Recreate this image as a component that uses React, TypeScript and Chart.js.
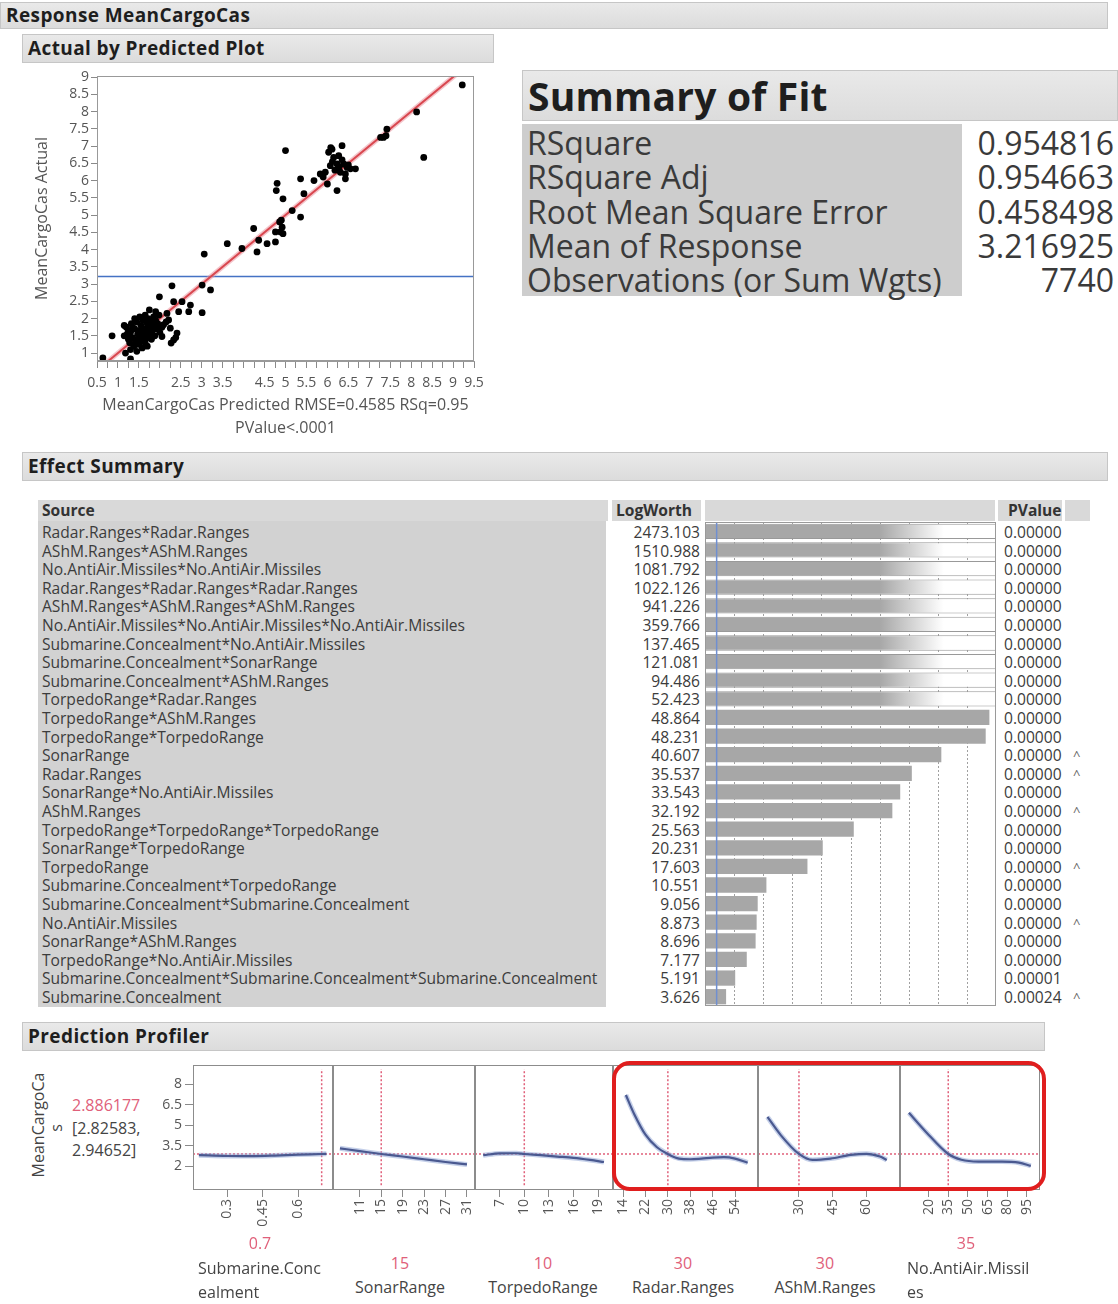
import React, { useEffect, useRef } from 'react';
import { Chart, registerables } from 'chart.js';

Chart.register(...registerables);

const FONT = '"Open Sans", "Noto Sans", sans-serif';

// ---------- Actual by Predicted ----------
const predictedValues = [
  9.22, 8.13, 8.3, 7.42, 7.34, 7.27, 7.4, 5.0,
  6.35, 6.11, 6.03, 6.15, 6.27, 6.08, 5.83, 5.95, 6.07, 6.23, 6.39, 6.47, 6.55, 6.67, 6.43, 6.43, 5.68, 6.0, 6.23, 6.31, 6.18, 6.35, 6.5, 5.9, 6.12, 6.28,
  5.36, 5.44, 5.16, 5.36, 4.8, 4.78, 4.94, 4.9, 4.92, 4.88, 4.94, 4.76, 4.76, 4.86,
  4.24, 4.36, 4.56, 4.32, 3.96, 3.61, 3.06, 3.01, 3.21, 3.01,
  2.29, 1.99, 2.33, 2.53, 2.73, 2.69, 2.45, 2.21, 2.25, 2.41, 2.33, 2.27, 2.05, 2.17, 2.09, 2.15, 2.38,
  0.86, 0.64, 1.3, 1.18,
  1.15, 1.2, 1.22, 1.25, 1.28, 1.3, 1.32, 1.35, 1.38, 1.4, 1.42, 1.45, 1.47, 1.5, 1.5, 1.52, 1.55, 1.55, 1.58, 1.6,
  1.6, 1.62, 1.65, 1.65, 1.68, 1.7, 1.72, 1.72, 1.75, 1.75, 1.78, 1.8, 1.82, 1.85, 1.85, 1.88, 1.9, 1.92, 1.95, 1.98,
  2.0, 1.3, 1.45, 1.35, 1.4, 1.55, 1.7, 1.6, 1.25, 1.5, 1.8, 2.05, 1.15, 1.9,
];
const actualValues = [
  8.77, 7.99, 6.67, 7.49, 7.25, 7.25, 7.3, 6.87,
  7.01, 6.91, 6.82, 6.67, 6.72, 6.95, 6.19, 6.24, 6.43, 6.48, 6.48, 6.38, 6.34, 6.34, 6.19, 6.05, 6.0, 5.9, 5.71, 6.24, 6.3, 6.6, 6.45, 6.1, 6.55, 6.4,
  6.05, 5.62, 5.13, 4.94, 5.92, 5.71, 5.47, 4.85, 4.65, 4.51, 4.46, 4.51, 4.22, 4.8,
  4.61, 4.27, 4.17, 3.93, 4.03, 4.17, 3.87, 2.97, 2.83, 2.17,
  2.95, 2.63, 2.49, 2.49, 2.39, 2.2, 2.2, 1.96, 1.72, 1.58, 1.38, 1.29, 1.48, 2.15, 1.82, 1.9, 1.45,
  1.5, 0.86, 0.83, 1.0,
  1.8, 1.75, 1.55, 1.4, 1.3, 1.6, 1.85, 1.45, 1.2, 1.7, 1.35, 1.9, 1.55, 1.25, 1.65, 2.05, 1.4, 1.8, 1.15, 1.5,
  1.95, 1.7, 1.3, 2.1, 1.6, 1.85, 1.45, 2.0, 1.75, 2.25, 1.55, 1.9, 1.65, 2.05, 1.8, 1.5, 1.95, 1.7, 1.85, 2.1,
  1.6, 1.1, 1.05, 1.75, 2.0, 1.6, 1.2, 1.35, 1.65, 1.45, 1.4, 1.75, 1.5, 2.2,
];
const meanResponse = 3.216925;
const apYTicks = [1, 1.5, 2, 2.5, 3, 3.5, 4, 4.5, 5, 5.5, 6, 6.5, 7, 7.5, 8, 8.5, 9];
const apXTickMarks = [
  0.5, 0.75, 1, 1.25, 1.5, 1.75, 2, 2.25, 2.5, 2.75, 3, 3.25, 3.5, 3.75, 4, 4.25, 4.5, 4.75, 5,
  5.25, 5.5, 5.75, 6, 6.25, 6.5, 6.75, 7, 7.25, 7.5, 7.75, 8, 8.25, 8.5, 8.75, 9, 9.25, 9.5,
];
const apXTickLabels = [0.5, 1, 1.5, 2.5, 3, 3.5, 4.5, 5, 5.5, 6, 6.5, 7, 7.5, 8, 8.5, 9, 9.5];

// ---------- Summary of Fit ----------
const fitLabels = ['RSquare', 'RSquare Adj', 'Root Mean Square Error', 'Mean of Response', 'Observations (or Sum Wgts)'];
const fitValues = ['0.954816', '0.954663', '0.458498', '3.216925', '7740'];

// ---------- Effect Summary ----------
const effectSources = [
  'Radar.Ranges*Radar.Ranges',
  'AShM.Ranges*AShM.Ranges',
  'No.AntiAir.Missiles*No.AntiAir.Missiles',
  'Radar.Ranges*Radar.Ranges*Radar.Ranges',
  'AShM.Ranges*AShM.Ranges*AShM.Ranges',
  'No.AntiAir.Missiles*No.AntiAir.Missiles*No.AntiAir.Missiles',
  'Submarine.Concealment*No.AntiAir.Missiles',
  'Submarine.Concealment*SonarRange',
  'Submarine.Concealment*AShM.Ranges',
  'TorpedoRange*Radar.Ranges',
  'TorpedoRange*AShM.Ranges',
  'TorpedoRange*TorpedoRange',
  'SonarRange',
  'Radar.Ranges',
  'SonarRange*No.AntiAir.Missiles',
  'AShM.Ranges',
  'TorpedoRange*TorpedoRange*TorpedoRange',
  'SonarRange*TorpedoRange',
  'TorpedoRange',
  'Submarine.Concealment*TorpedoRange',
  'Submarine.Concealment*Submarine.Concealment',
  'No.AntiAir.Missiles',
  'SonarRange*AShM.Ranges',
  'TorpedoRange*No.AntiAir.Missiles',
  'Submarine.Concealment*Submarine.Concealment*Submarine.Concealment',
  'Submarine.Concealment',
];
const effectLogWorth = [
  2473.103, 1510.988, 1081.792, 1022.126, 941.226, 359.766, 137.465, 121.081, 94.486, 52.423,
  48.864, 48.231, 40.607, 35.537, 33.543, 32.192, 25.563, 20.231, 17.603, 10.551,
  9.056, 8.873, 8.696, 7.177, 5.191, 3.626,
];
const effectPValues = [
  '0.00000', '0.00000', '0.00000', '0.00000', '0.00000', '0.00000', '0.00000', '0.00000', '0.00000', '0.00000',
  '0.00000', '0.00000', '0.00000', '0.00000', '0.00000', '0.00000', '0.00000', '0.00000', '0.00000', '0.00000',
  '0.00000', '0.00000', '0.00000', '0.00000', '0.00001', '0.00024',
];
const effectCaret = [
  false, false, false, false, false, false, false, false, false, false,
  false, false, true, true, false, true, false, false, true, false,
  false, true, false, false, false, true,
];
const effectAxisMax = 50;
const effectGridValues = [5, 10, 15, 20, 25, 30, 35, 40, 45];
const effectRefLogWorth = 2;

// ---------- Prediction Profiler ----------
const predictedResponse = 2.886177;
const predictedInterval = ['[2.82583,', '2.94652]'];
const profYTicks = [2, 3.5, 5, 6.5, 8];

const subConcX = [0.18, 0.3, 0.4, 0.5, 0.6, 0.7, 0.72];
const subConcY = [2.8, 2.74, 2.73, 2.77, 2.84, 2.886, 2.9];
const sonarX = [7.3, 11, 15, 19, 23, 27, 31];
const sonarY = [3.3, 3.1, 2.886, 2.7, 2.5, 2.3, 2.12];
const torpedoX = [5, 7, 9, 10, 12, 14, 16, 18, 19.7];
const torpedoY = [2.8, 2.93, 2.94, 2.886, 2.8, 2.7, 2.6, 2.45, 2.3];
const radarX = [15, 18, 22, 26, 30, 34, 38, 42, 46, 50, 54, 58.5];
const radarY = [7.2, 5.8, 4.3, 3.4, 2.886, 2.55, 2.5, 2.55, 2.62, 2.65, 2.55, 2.25];
const ashmX = [16, 22, 30, 36, 44, 53, 60, 66, 69];
const ashmY = [5.6, 4.25, 2.886, 2.45, 2.55, 2.82, 2.9, 2.7, 2.45];
const antiAirX = [5, 18, 35, 45, 58, 76, 89, 98];
const antiAirY = [5.9, 4.5, 2.886, 2.46, 2.33, 2.33, 2.25, 2.02];

const factorNames = ['Submarine.Concealment', 'SonarRange', 'TorpedoRange', 'Radar.Ranges', 'AShM.Ranges', 'No.AntiAir.Missiles'];
const factorCurrent = [0.7, 15, 10, 30, 30, 35];
const factorTicks = [
  [0.3, 0.45, 0.6],
  [11, 15, 19, 23, 27, 31],
  [7, 10, 13, 16, 19],
  [14, 22, 30, 38, 46, 54],
  [30, 45, 60],
  [20, 35, 50, 65, 80, 95],
];

const profilerTable = [
  { xs: subConcX, ys: subConcY, min: 0.155, max: 0.748, left: 150, right: 333 },
  { xs: sonarX, ys: sonarY, min: 6, max: 32.5, left: 333, right: 475 },
  { xs: torpedoX, ys: torpedoY, min: 4, max: 20.8, left: 475, right: 613 },
  { xs: radarX, ys: radarY, min: 10.4, max: 62.2, left: 613, right: 758 },
  { xs: ashmX, ys: ashmY, min: 11.8, max: 74.9, left: 758, right: 900 },
  { xs: antiAirX, ys: antiAirY, min: -1.8, max: 105, left: 900, right: 1040 },
];

// ---------- helpers ----------
const framePlugin = (color: string) => ({
  id: 'frame' + color.replace('#', ''),
  afterDatasetsDraw(chart: any) {
    const { ctx, chartArea: a } = chart;
    ctx.save();
    ctx.strokeStyle = color;
    ctx.lineWidth = 1;
    ctx.strokeRect(Math.round(a.left) + 0.5, Math.round(a.top) + 0.5, Math.round(a.width) - 1, Math.round(a.height) - 1);
    ctx.restore();
  },
});

function ChartCanvas({ left, top, width, height, config }: any) {
  const ref = useRef<HTMLCanvasElement>(null);
  useEffect(() => {
    const chart = new Chart(ref.current as HTMLCanvasElement, config());
    return () => chart.destroy();
  }, []);
  return (
    <canvas
      ref={ref}
      width={width}
      height={height}
      style={{ position: 'absolute', left, top, width, height }}
    />
  );
}

const tickFont = { family: FONT, size: 14 };
const fmt = (v: number) => String(Math.round(v * 1000) / 1000);

function scatterConfig() {
  return {
    type: 'scatter',
    data: {
      datasets: [
        {
          data: predictedValues.map((x, i) => ({ x, y: actualValues[i] })),
          pointRadius: 3.4,
          pointBackgroundColor: '#000',
          pointBorderWidth: 0,
          showLine: false,
        },
        {
          data: [{ x: 0.5, y: 0.5 }, { x: 9.5, y: 9.5 }],
          showLine: true,
          borderColor: '#d9474f',
          borderWidth: 2,
          pointRadius: 0,
        },
        {
          data: [{ x: 0.5, y: 0.5 }, { x: 9.5, y: 9.5 }],
          showLine: true,
          borderColor: 'rgba(235, 150, 160, 0.55)',
          borderWidth: 5,
          pointRadius: 0,
        },
        {
          data: [{ x: 0.5, y: meanResponse }, { x: 9.5, y: meanResponse }],
          showLine: true,
          borderColor: '#4472c4',
          borderWidth: 1.5,
          pointRadius: 0,
        },
      ],
    },
    options: {
      responsive: false,
      animation: false,
      layout: { padding: { left: 0, right: 16, top: 10, bottom: 6 } },
      plugins: { legend: { display: false }, tooltip: { enabled: false } },
      scales: {
        x: {
          type: 'linear',
          min: 0.5,
          max: 9.5,
          afterBuildTicks: (s: any) => { s.ticks = apXTickMarks.map((v) => ({ value: v })); },
          afterFit: (s: any) => { s.height = 79; s.paddingLeft = 0; s.paddingRight = 0; },
          grid: { drawOnChartArea: false, drawTicks: true, tickLength: 7, color: '#8a8a8a' },
          border: { color: '#999' },
          ticks: {
            autoSkip: false, maxRotation: 0, minRotation: 0, padding: 7, color: '#555', font: tickFont,
            callback: (v: number) => (apXTickLabels.some((l) => Math.abs(l - v) < 1e-6) ? fmt(v) : ''),
          },
          title: {
            display: true,
            text: ['MeanCargoCas Predicted RMSE=0.4585 RSq=0.95', 'PValue<.0001'],
            color: '#555',
            font: { family: FONT, size: 16, lineHeight: 1.45 },
            padding: { top: 0, bottom: 0 },
          },
        },
        y: {
          type: 'linear',
          min: 0.77,
          max: 9.03,
          afterBuildTicks: (s: any) => { s.ticks = apYTicks.map((v) => ({ value: v })); },
          afterFit: (s: any) => { s.width = 67; s.paddingTop = 0; s.paddingBottom = 0; },
          grid: { drawOnChartArea: false, drawTicks: true, tickLength: 6, color: '#8a8a8a' },
          border: { color: '#999' },
          ticks: { autoSkip: false, padding: 2, color: '#555', font: tickFont, callback: (v: number) => fmt(v) },
          title: { display: true, text: 'MeanCargoCas Actual', color: '#555', font: { family: FONT, size: 16 }, padding: { top: 3, bottom: 0 } },
        },
      },
    },
    plugins: [framePlugin('#999999')],
  };
}

const effectDecor = {
  id: 'effectDecor',
  beforeDatasetsDraw(chart: any) {
    const { ctx, chartArea: a, scales } = chart;
    ctx.save();
    ctx.strokeStyle = '#a0a0a0';
    ctx.lineWidth = 1;
    ctx.setLineDash([2, 2]);
    effectGridValues.forEach((v) => {
      const px = Math.round(scales.x.getPixelForValue(v)) + 0.5;
      ctx.beginPath();
      ctx.moveTo(px, a.top);
      ctx.lineTo(px, a.bottom);
      ctx.stroke();
    });
    ctx.restore();
  },
  afterDatasetsDraw(chart: any) {
    const { ctx, chartArea: a, scales } = chart;
    ctx.save();
    ctx.strokeStyle = '#6f8fd0';
    ctx.lineWidth = 1.5;
    const px = scales.x.getPixelForValue(effectRefLogWorth);
    ctx.beginPath();
    ctx.moveTo(px, a.top);
    ctx.lineTo(px, a.bottom);
    ctx.stroke();
    ctx.strokeStyle = '#9a9a9a';
    ctx.lineWidth = 1;
    ctx.strokeRect(Math.round(a.left) + 0.5, Math.round(a.top) + 0.5, Math.round(a.width) - 1, Math.round(a.height) - 1);
    ctx.restore();
  },
};

function effectConfig() {
  const barGray = '#a7a7a7';
  return {
    type: 'bar',
    data: {
      labels: effectSources,
      datasets: [
        {
          data: effectLogWorth.map((v) => Math.min(v, effectAxisMax)),
          backgroundColor: (c: any) => {
            const v = effectLogWorth[c.dataIndex];
            const a = c.chart.chartArea;
            if (v <= effectAxisMax || !a) return barGray;
            const g = c.chart.ctx.createLinearGradient(a.left, 0, a.right, 0);
            g.addColorStop(0, barGray);
            g.addColorStop(0.6, barGray);
            g.addColorStop(0.82, '#ffffff');
            g.addColorStop(1, '#ffffff');
            return g;
          },
          borderColor: '#999999',
          borderWidth: (c: any) => (effectLogWorth[c.dataIndex] > effectAxisMax ? 1 : 0),
          barPercentage: 0.82,
          categoryPercentage: 1,
        },
      ],
    },
    options: {
      indexAxis: 'y',
      responsive: false,
      animation: false,
      layout: { padding: 0 },
      plugins: { legend: { display: false }, tooltip: { enabled: false } },
      scales: {
        x: { display: false, min: 0, max: effectAxisMax },
        y: { display: false },
      },
    },
    plugins: [effectDecor],
  };
}

function profilerConfig(i: number) {
  const p = profilerTable[i];
  const first = i === 0;
  const curve = p.xs.map((x, k) => ({ x, y: p.ys[k] }));
  return {
    type: 'scatter',
    data: {
      datasets: [
        {
          data: curve,
          showLine: true,
          borderColor: '#4a5990',
          borderWidth: 2.2,
          pointRadius: 0,
          cubicInterpolationMode: 'monotone',
        },
        {
          data: curve,
          showLine: true,
          borderColor: 'rgba(150, 170, 215, 0.55)',
          borderWidth: 5,
          pointRadius: 0,
          cubicInterpolationMode: 'monotone',
        },
        {
          data: [{ x: factorCurrent[i], y: 0.6 }, { x: factorCurrent[i], y: 9.1 }],
          showLine: true,
          borderColor: '#e0607a',
          borderWidth: 1.5,
          borderDash: [2, 2],
          pointRadius: 0,
        },
        {
          data: [{ x: p.min, y: predictedResponse }, { x: p.max, y: predictedResponse }],
          showLine: true,
          borderColor: '#e0607a',
          borderWidth: 1.5,
          borderDash: [2, 2],
          pointRadius: 0,
        },
      ],
    },
    options: {
      responsive: false,
      animation: false,
      layout: { padding: { left: 0, right: 0, top: 5, bottom: 0 } },
      plugins: { legend: { display: false }, tooltip: { enabled: false } },
      scales: {
        x: {
          type: 'linear',
          min: p.min,
          max: p.max,
          afterBuildTicks: (s: any) => { s.ticks = factorTicks[i].map((v) => ({ value: v })); },
          afterFit: (s: any) => { s.height = 55; s.paddingLeft = 0; s.paddingRight = 0; },
          grid: { drawOnChartArea: false, drawTicks: true, tickLength: 7, color: '#8a8a8a' },
          border: { display: false },
          ticks: { autoSkip: false, maxRotation: 90, minRotation: 90, padding: 2, color: '#555', font: tickFont, callback: (v: number) => fmt(v) },
        },
        y: {
          type: 'linear',
          display: first,
          min: 0.25,
          max: 9.4,
          afterBuildTicks: (s: any) => { s.ticks = profYTicks.map((v) => ({ value: v })); },
          afterFit: (s: any) => { s.width = first ? 43 : 0; s.paddingTop = 0; s.paddingBottom = 0; },
          grid: { drawOnChartArea: false, drawTicks: true, tickLength: 8, color: '#8a8a8a' },
          border: { display: false },
          ticks: { autoSkip: false, padding: 3, color: '#555', font: tickFont, callback: (v: number) => fmt(v) },
        },
      },
    },
    plugins: [framePlugin('#8c8c8c')],
  };
}

// ---------- layout ----------
const barStyle = (left: number, top: number, width: number, height: number, size: number): React.CSSProperties => ({
  position: 'absolute',
  left,
  top,
  width,
  height,
  background: 'linear-gradient(#e9e9e9, #dcdcdc)',
  border: '1px solid #c6c6c6',
  boxSizing: 'border-box',
  fontWeight: 700,
  fontSize: size,
  letterSpacing: 0.4,
  color: '#1e1e1e',
  lineHeight: height - 2 + 'px',
  paddingLeft: 5,
  whiteSpace: 'nowrap',
  overflow: 'hidden',
});

const abs = (left: number, top: number, extra: React.CSSProperties = {}): React.CSSProperties => ({
  position: 'absolute',
  left,
  top,
  whiteSpace: 'nowrap',
  ...extra,
});

const ROW_TOP = 523;
const ROW_H = 18.6;
const RED = '#e0607a';
const TXT = 15.6;

export default function App() {
  const profLabelTop = [1233, 1253, 1253, 1253, 1253, 1233];
  const profLabelCenter = [260, 400, 543, 683, 825, 966];
  return (
    <div
      style={{
        position: 'fixed',
        left: 0,
        top: 0,
        width: 1118,
        height: 1304,
        background: '#ffffff',
        overflow: 'hidden',
        fontFamily: FONT,
        color: '#333',
      }}
    >
      <div style={barStyle(0, 2, 1108, 27, 19)}>Response MeanCargoCas</div>
      <div style={barStyle(22, 34, 472, 29, 19)}>Actual by Predicted Plot</div>

      <ChartCanvas left={30} top={66} width={460} height={380} config={scatterConfig} />

      {/* Summary of Fit */}
      <div style={{ ...barStyle(522, 70, 596, 51, 39), letterSpacing: 0.2, lineHeight: '49px', paddingLeft: 5 }}>Summary of Fit</div>
      <div style={{ position: 'absolute', left: 522, top: 124, width: 440, height: 172, background: '#cdcdcd' }} />
      {fitLabels.map((t, i) => (
        <div key={t} style={abs(527, 126 + i * 34.3, { fontSize: 32, lineHeight: '34px', color: '#3a3a3a' })}>{t}</div>
      ))}
      {fitValues.map((t, i) => (
        <div key={i} style={abs(900, 126 + i * 34.3, { width: 214, textAlign: 'right', fontSize: 32, lineHeight: '34px', color: '#3a3a3a' })}>{t}</div>
      ))}

      {/* Effect Summary */}
      <div style={barStyle(22, 452, 1086, 29, 19)}>Effect Summary</div>
      <div style={{ position: 'absolute', left: 38, top: 500, width: 570, height: 21, background: '#d9d9d9' }} />
      <div style={{ position: 'absolute', left: 612, top: 500, width: 89, height: 21, background: '#d9d9d9' }} />
      <div style={{ position: 'absolute', left: 705, top: 500, width: 290, height: 21, background: '#d9d9d9' }} />
      <div style={{ position: 'absolute', left: 998, top: 500, width: 64, height: 21, background: '#d9d9d9' }} />
      <div style={{ position: 'absolute', left: 1065, top: 500, width: 25, height: 21, background: '#d9d9d9' }} />
      <div style={{ position: 'absolute', left: 38, top: 521, width: 568, height: 486, background: '#d2d2d2' }} />
      <div style={abs(42, 500, { fontSize: TXT, fontWeight: 700, lineHeight: '21px', color: '#333' })}>Source</div>
      <div style={abs(616, 500, { fontSize: TXT, fontWeight: 700, lineHeight: '21px', color: '#333' })}>LogWorth</div>
      <div style={abs(1008, 500, { fontSize: TXT, fontWeight: 700, lineHeight: '21px', color: '#333' })}>PValue</div>
      {effectSources.map((s, i) => (
        <div key={'s' + i} style={abs(42, ROW_TOP + i * ROW_H, { fontSize: TXT, lineHeight: ROW_H + 'px', color: '#3c3c3c' })}>{s}</div>
      ))}
      {effectLogWorth.map((v, i) => (
        <div key={'l' + i} style={abs(610, ROW_TOP + i * ROW_H, { width: 90, textAlign: 'right', fontSize: TXT, lineHeight: ROW_H + 'px', color: '#3c3c3c' })}>{v.toFixed(3)}</div>
      ))}
      {effectPValues.map((v, i) => (
        <div key={'p' + i} style={abs(1004, ROW_TOP + i * ROW_H, { fontSize: TXT, lineHeight: ROW_H + 'px', color: '#3c3c3c' })}>{v}</div>
      ))}
      {effectCaret.map((c, i) =>
        c ? (
          <div key={'c' + i} style={abs(1073, ROW_TOP + i * ROW_H, { fontSize: 13, lineHeight: ROW_H + 'px', color: '#666' })}>^</div>
        ) : null
      )}
      <ChartCanvas left={705} top={522} width={291} height={484} config={effectConfig} />

      {/* Prediction Profiler */}
      <div style={barStyle(22, 1022, 1023, 29, 19)}>Prediction Profiler</div>
      <div style={abs(38, 1125, { transform: 'translate(-50%, -50%) rotate(-90deg)', fontSize: 16, color: '#444' })}>MeanCargoCa</div>
      <div style={abs(56, 1128, { transform: 'translate(-50%, -50%) rotate(-90deg)', fontSize: 16, color: '#444' })}>s</div>
      <div style={abs(72, 1094, { fontSize: 16, lineHeight: '22px', color: RED })}>{predictedResponse.toFixed(6)}</div>
      <div style={abs(72, 1117, { fontSize: 16, lineHeight: '22px', color: '#444' })}>{predictedInterval[0]}</div>
      <div style={abs(72, 1139, { fontSize: 16, lineHeight: '22px', color: '#444' })}>{predictedInterval[1]}</div>

      {profilerTable.map((p, i) => (
        <ChartCanvas key={'pp' + i} left={p.left} top={1060} width={p.right - p.left} height={185} config={() => profilerConfig(i)} />
      ))}

      {factorCurrent.map((v, i) => (
        <div key={'cv' + i} style={abs(profLabelCenter[i] - 30, profLabelTop[i], { width: 60, textAlign: 'center', fontSize: 16, lineHeight: '20px', color: RED })}>{String(v)}</div>
      ))}
      <div style={abs(198, 1256, { fontSize: 16, lineHeight: '24px', color: '#444' })}>
        {factorNames[0].slice(0, 14)}
        <br />
        {factorNames[0].slice(14)}
      </div>
      {[1, 2, 3, 4].map((i) => (
        <div key={'fn' + i} style={abs(profLabelCenter[i] - 60, 1277, { width: 120, textAlign: 'center', fontSize: 16, lineHeight: '20px', color: '#444' })}>{factorNames[i]}</div>
      ))}
      <div style={abs(907, 1256, { fontSize: 16, lineHeight: '24px', color: '#444' })}>
        {factorNames[5].slice(0, 17)}
        <br />
        {factorNames[5].slice(17)}
      </div>

      <div
        style={{
          position: 'absolute',
          left: 612,
          top: 1061,
          width: 434,
          height: 130,
          border: '4px solid #e01e1e',
          borderRadius: 18,
          boxSizing: 'border-box',
        }}
      />
    </div>
  );
}
